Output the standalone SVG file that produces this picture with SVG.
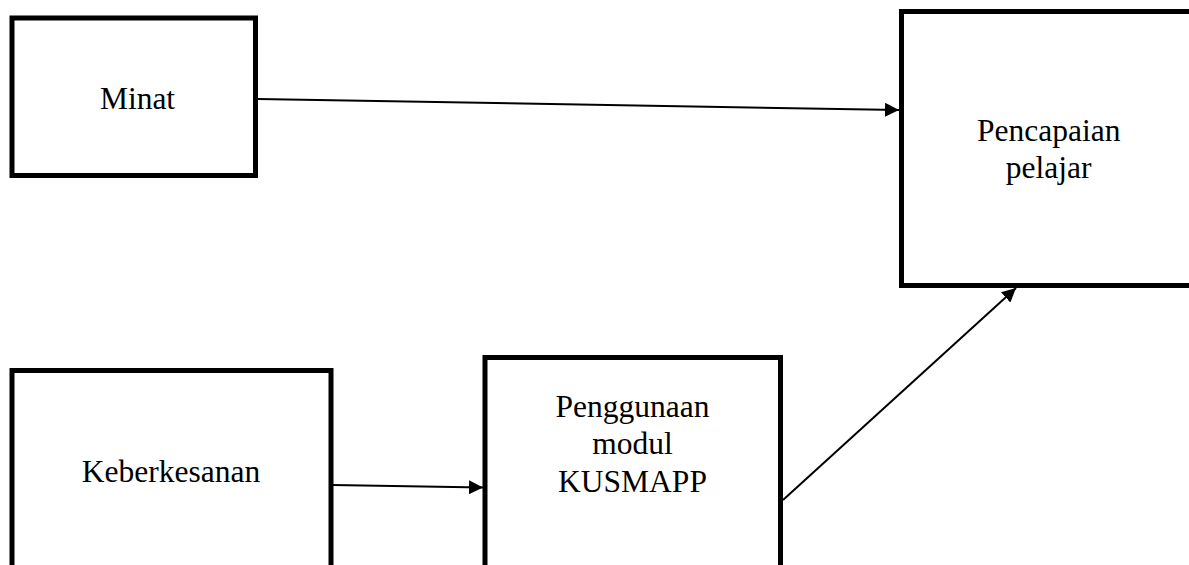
<svg xmlns="http://www.w3.org/2000/svg" width="1189" height="565" viewBox="0 0 1189 565">
<style>
.box{fill:#fff;stroke:#000;stroke-width:5}
.lbl{font-family:"Liberation Serif","Times New Roman",serif;font-size:31.5px;fill:#000;text-anchor:middle}
.conn{stroke:#000;stroke-width:2;fill:none}
</style>
<defs>
<marker id="ah" markerWidth="14" markerHeight="14" refX="14" refY="7" orient="auto" markerUnits="userSpaceOnUse">
<path d="M0,0 L14,7 L0,14 Z" fill="#000"/>
</marker>
</defs>
<rect width="1189" height="565" fill="#fff"/>
<g id="minat">
<rect class="box" x="12" y="18" width="243.5" height="157.5"/>
<text class="lbl" x="137.5" y="109.3">Minat</text>
</g>
<g id="pencapaian">
<rect class="box" x="901.5" y="11.5" width="300" height="274"/>
<text class="lbl" x="1048.7" y="141">Pencapaian</text>
<text class="lbl" x="1048.7" y="178">pelajar</text>
</g>
<g id="keberkesanan">
<rect class="box" x="12" y="370.5" width="319" height="220"/>
<text class="lbl" x="171" y="481.7">Keberkesanan</text>
</g>
<g id="penggunaan">
<rect class="box" x="485" y="357.5" width="295.5" height="230"/>
<text class="lbl" x="632.5" y="417">Penggunaan</text>
<text class="lbl" x="632.5" y="454">modul</text>
<text class="lbl" x="632.5" y="491.5">KUSMAPP</text>
</g>
<g id="connectors">
<line class="conn" x1="258" y1="99" x2="899" y2="110" marker-end="url(#ah)"/>
<line class="conn" x1="333" y1="485" x2="483" y2="487.5" marker-end="url(#ah)"/>
<line class="conn" x1="783" y1="500" x2="1016" y2="288" marker-end="url(#ah)"/>
</g>
</svg>
